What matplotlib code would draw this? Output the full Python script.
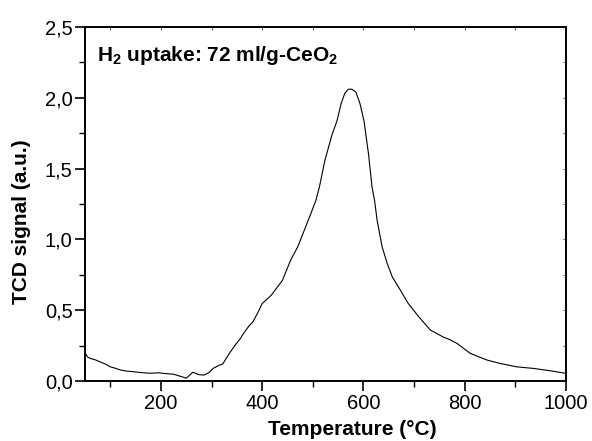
import matplotlib
matplotlib.use("Agg")
import matplotlib.pyplot as plt
from matplotlib.ticker import MultipleLocator, FuncFormatter, NullFormatter

plt.rcParams["font.family"] = ["Liberation Sans", "DejaVu Sans"]
plt.rcParams["mathtext.fontset"] = "custom"
plt.rcParams["mathtext.rm"] = "Liberation Sans"
plt.rcParams["mathtext.bf"] = "Liberation Sans:bold"

# TPR trace
temperature = [50, 55, 60, 70, 80, 90, 100, 110, 120, 132, 145, 160, 178, 195, 211, 225, 237, 250,
               263, 275, 285, 295, 303, 316, 322, 336, 348, 357, 362, 372, 382, 391, 400, 418,
               440, 456, 470, 483, 496, 506, 513, 524, 538, 548, 556, 563, 570, 577, 585,
               593, 601, 610, 617, 622, 627, 637, 647, 657, 673, 688, 709, 732, 758, 772,
               785, 811, 844, 870, 903, 936, 968, 990, 1000]
signal = [0.20, 0.17, 0.16, 0.15, 0.135, 0.12, 0.10, 0.09, 0.078, 0.07, 0.066, 0.06, 0.055, 0.058,
          0.052, 0.048, 0.035, 0.02, 0.062, 0.045, 0.042, 0.06, 0.089, 0.113, 0.12, 0.2, 0.26,
          0.30, 0.33, 0.38, 0.42, 0.48, 0.547, 0.606, 0.711, 0.852, 0.946, 1.063, 1.181, 1.275,
          1.37, 1.56, 1.74, 1.84, 1.96, 2.03, 2.06, 2.06, 2.04, 1.96, 1.838, 1.603, 1.368, 1.275,
          1.134, 0.946, 0.829, 0.735, 0.641, 0.55, 0.455, 0.36, 0.31, 0.29, 0.265, 0.195, 0.148,
          0.124, 0.10, 0.089, 0.073, 0.06, 0.054]

x_ticks = [200, 400, 600, 800, 1000]
y_ticks = [0.0, 0.5, 1.0, 1.5, 2.0, 2.5]
note = r"H$_\mathbf{2}$ uptake: 72 ml/g-CeO$_\mathbf{2}$"

fig = plt.figure(figsize=(5.92, 4.41), dpi=100)
ax = fig.add_axes([0.1436, 0.136, 0.8124, 0.803])
ax.plot(temperature, signal, color="black", linewidth=0.8)

ax.set_xlim(50, 1000)
ax.set_ylim(0, 2.5)
ax.set_xticks(x_ticks)
ax.set_yticks(y_ticks)
ax.xaxis.set_minor_locator(MultipleLocator(100))
ax.yaxis.set_minor_locator(MultipleLocator(0.25))
ax.yaxis.set_major_formatter(FuncFormatter(lambda v, p: f"{v:.1f}".replace(".", ",")))

for side in ax.spines.values():
    side.set_linewidth(1.4)
ax.tick_params(which="major", direction="out", length=7, width=1.2, labelsize=14.5, pad=2)
ax.tick_params(which="minor", direction="out", length=4, width=1.0)

# faint small ticks on top and right, as in the original
top = ax.secondary_xaxis("top")
top.set_xticks(x_ticks)
top.xaxis.set_minor_locator(MultipleLocator(100))
top.xaxis.set_major_formatter(NullFormatter())
top.tick_params(which="both", direction="in", length=2, width=0.8, color="0.4")
top.spines["top"].set_visible(False)
right = ax.secondary_yaxis("right")
right.set_yticks(y_ticks)
right.yaxis.set_minor_locator(MultipleLocator(0.25))
right.yaxis.set_major_formatter(NullFormatter())
right.tick_params(which="both", direction="in", length=2, width=0.8, color="0.4")
right.spines["right"].set_visible(False)

ax.set_xlabel("Temperature (°C)", fontsize=15, fontweight="bold", labelpad=0)
ax.xaxis.set_label_coords(0.555, -0.137, transform=ax.transAxes)
ax.xaxis.label.set_va("center")
ax.set_ylabel("TCD signal (a.u.)", fontsize=15, fontweight="bold", labelpad=3)
ax.yaxis.set_label_coords(-0.133, 0.449, transform=ax.transAxes)
ax.yaxis.label.set_va("center")
ax.text(0.025, 0.905, note, transform=ax.transAxes, fontsize=15, fontweight="bold",
        ha="left", va="baseline")

fig.savefig("out.png", dpi=100)
plt.close(fig)
